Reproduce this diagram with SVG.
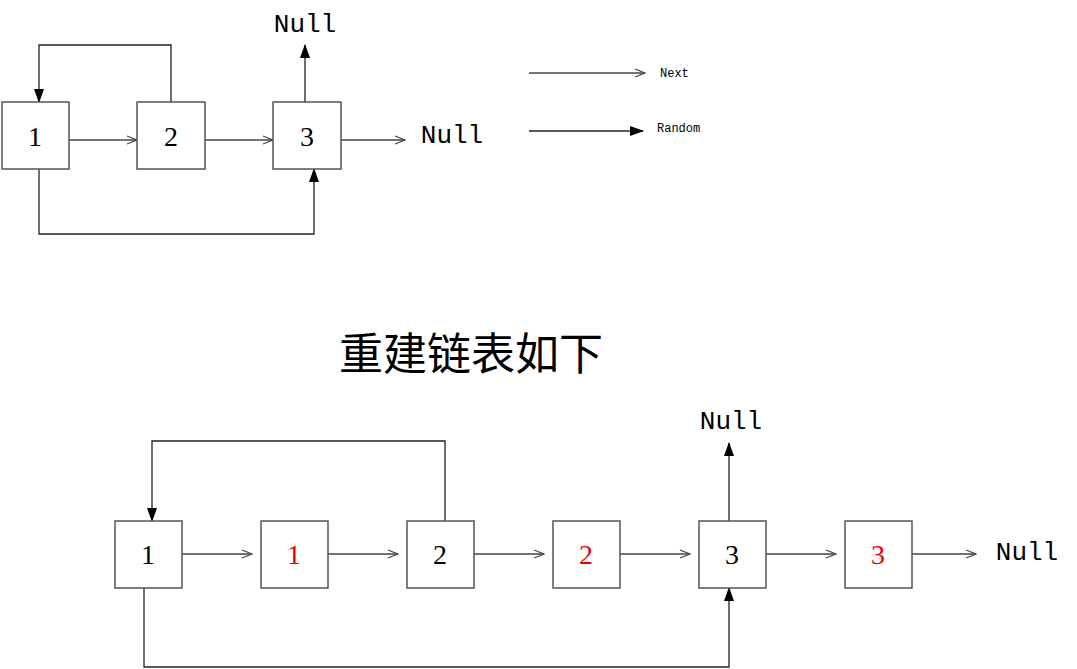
<svg xmlns="http://www.w3.org/2000/svg" width="1077" height="669" viewBox="0 0 1077 669">
<style>
.b{fill:#fff;stroke:#555;stroke-width:1.5}
.t{font-family:"Liberation Serif","Noto Sans CJK SC",serif;font-size:28px;text-anchor:middle;dominant-baseline:central}
.nl{font-family:"Liberation Mono",monospace;font-size:26px;text-anchor:middle;dominant-baseline:central}
.r{fill:#e00}
.n{stroke:#444;stroke-width:1.3;fill:none;marker-end:url(#o)}
.m{stroke:#222;stroke-width:1.3;fill:none;marker-end:url(#f)}
.l{font-family:"Liberation Mono",monospace;font-size:12px}
</style>
<defs>
<marker id="o" markerWidth="12" markerHeight="10" refX="11" refY="5" orient="auto" markerUnits="userSpaceOnUse"><path d="M1,1 L11,5 L1,9" fill="none" stroke="#444" stroke-width="1.2"/></marker>
<marker id="f" markerWidth="14" markerHeight="10" refX="13" refY="5" orient="auto" markerUnits="userSpaceOnUse"><path d="M0,0 L14,5 L0,10Z" fill="#000"/></marker>
</defs>
<rect width="1077" height="669" fill="#fff"/>
<g id="connectors">
<path class="n" d="M69,140 H137"/><path class="n" d="M205,140 H273"/><path class="n" d="M341,140 H405"/>
<path class="m" d="M305,102 V45"/>
<path class="m" d="M171,102 V45 H39 V102"/>
<path class="m" d="M39,169 V234 H314 V169"/>
<path class="n" d="M529,73 H645"/><path class="m" d="M529,131 H643"/>
<path class="n" d="M182,554 H252"/><path class="n" d="M328,554 H398"/><path class="n" d="M474,554 H544"/><path class="n" d="M620,554 H690"/><path class="n" d="M766,554 H836"/><path class="n" d="M912,554 H976"/>
<path class="m" d="M729,521 V443"/>
<path class="m" d="M445,521 V441 H152 V521"/>
<path class="m" d="M144,588 V667 H729 V588"/>
</g>
<g id="n1"><rect class="b" x="2" y="102" width="67" height="67"/><text class="t" x="35" y="136">1</text></g>
<g id="n2"><rect class="b" x="137" y="102" width="68" height="67"/><text class="t" x="171" y="136">2</text></g>
<g id="n3"><rect class="b" x="273" y="102" width="68" height="67"/><text class="t" x="307" y="136">3</text></g>
<g id="null1"><text class="nl" x="305" y="25">Null</text></g>
<g id="null2"><text class="nl" x="452" y="136">Null</text></g>
<g id="legend"><text class="l" x="660" y="77">Next</text><text class="l" x="657" y="132">Random</text></g>
<g id="title"><text class="t" x="471" y="355" style="font-size:44px">重建链表如下</text></g>
<g id="b1"><rect class="b" x="115" y="521" width="67" height="67"/><text class="t" x="148" y="554">1</text></g>
<g id="b1c"><rect class="b" x="261" y="521" width="67" height="67"/><text class="t r" x="294" y="554">1</text></g>
<g id="b2"><rect class="b" x="407" y="521" width="67" height="67"/><text class="t" x="440" y="554">2</text></g>
<g id="b2c"><rect class="b" x="553" y="521" width="67" height="67"/><text class="t r" x="586" y="554">2</text></g>
<g id="b3"><rect class="b" x="699" y="521" width="67" height="67"/><text class="t" x="732" y="554">3</text></g>
<g id="b3c"><rect class="b" x="845" y="521" width="67" height="67"/><text class="t r" x="878" y="554">3</text></g>
<g id="null3"><text class="nl" x="731" y="422">Null</text></g>
<g id="null4"><text class="nl" x="1027" y="553">Null</text></g>
</svg>
